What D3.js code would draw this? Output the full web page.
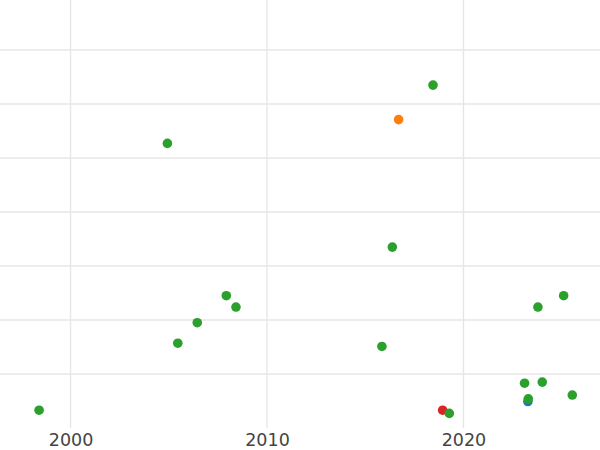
<!DOCTYPE html>
<html>
<head>
<meta charset="utf-8">
<script src="https://cdn.jsdelivr.net/npm/d3@7"></script>
<style>
  html, body { margin: 0; padding: 0; background: #fff; }
  svg { display: block; }
</style>
</head>
<body>
<svg id="chart" width="600" height="450"></svg>
<script>
// Data
const groups = ["blue", "orange", "red", "green"];
const groupColors = ["#1f77b4", "#ff7f0e", "#d62728", "#2ca02c"];

const blueYears = [2023.28];
const blueValues = [0.49];

const orangeYears = [2016.70];
const orangeValues = [5.71];

const redYears = [2018.94];
const redValues = [0.33];

const greenYears = [1998.40, 2004.93, 2005.46, 2006.45, 2007.93, 2008.42, 2015.85, 2016.38,
                    2018.45, 2019.28, 2023.11, 2024.01, 2023.79, 2025.10, 2025.54, 2023.30];
const greenValues = [0.33, 5.27, 1.57, 1.95, 2.45, 2.24, 1.51, 3.35,
                     6.35, 0.27, 0.83, 0.85, 2.24, 2.45, 0.61, 0.54];

const xTickValues = [2000, 2010, 2020];
const yGridValues = [1, 2, 3, 4, 5, 6, 7];

const series = [
  { name: groups[0], color: groupColors[0], xs: blueYears, ys: blueValues },
  { name: groups[1], color: groupColors[1], xs: orangeYears, ys: orangeValues },
  { name: groups[2], color: groupColors[2], xs: redYears, ys: redValues },
  { name: groups[3], color: groupColors[3], xs: greenYears, ys: greenValues }
];

const W = 600, H = 450;
const plot = { left: 0, right: 600, top: 0, bottom: 428 };

const x = d3.scaleLinear().domain([1996.41, 2026.95]).range([plot.left, plot.right]);
const y = d3.scaleLinear().domain([0, 7.926]).range([plot.bottom, plot.top]);

const svg = d3.select("#chart");

// Grid lines
const grid = svg.append("g").attr("class", "grid");
grid.selectAll("line.h").data(yGridValues).join("line")
  .attr("class", "h")
  .attr("x1", plot.left).attr("x2", plot.right)
  .attr("y1", d => y(d)).attr("y2", d => y(d))
  .attr("stroke", "#e6e6e6").attr("stroke-width", 1.4);
grid.selectAll("line.v").data(xTickValues).join("line")
  .attr("class", "v")
  .attr("y1", plot.top).attr("y2", plot.bottom)
  .attr("x1", d => x(d)).attr("x2", d => x(d))
  .attr("stroke", "#e6e6e6").attr("stroke-width", 1.4);

// X axis labels
const xAxis = d3.axisBottom(x).tickValues(xTickValues).tickFormat(d3.format("d")).tickSize(0).tickPadding(6);
const gx = svg.append("g").attr("transform", `translate(0,${plot.bottom})`).call(xAxis);
gx.select(".domain").remove();
gx.selectAll("text")
  .attr("font-family", "DejaVu Sans, sans-serif")
  .attr("font-size", 17.5)
  .attr("fill", "#444");

// Points
const pts = svg.append("g").attr("class", "points");
series.forEach(s => {
  const data = s.xs.map((v, i) => ({ x: v, y: s.ys[i] }));
  pts.append("g").selectAll("circle").data(data).join("circle")
    .attr("cx", d => x(d.x))
    .attr("cy", d => y(d.y))
    .attr("r", 4.8)
    .attr("fill", s.color);
});
</script>
</body>
</html>
